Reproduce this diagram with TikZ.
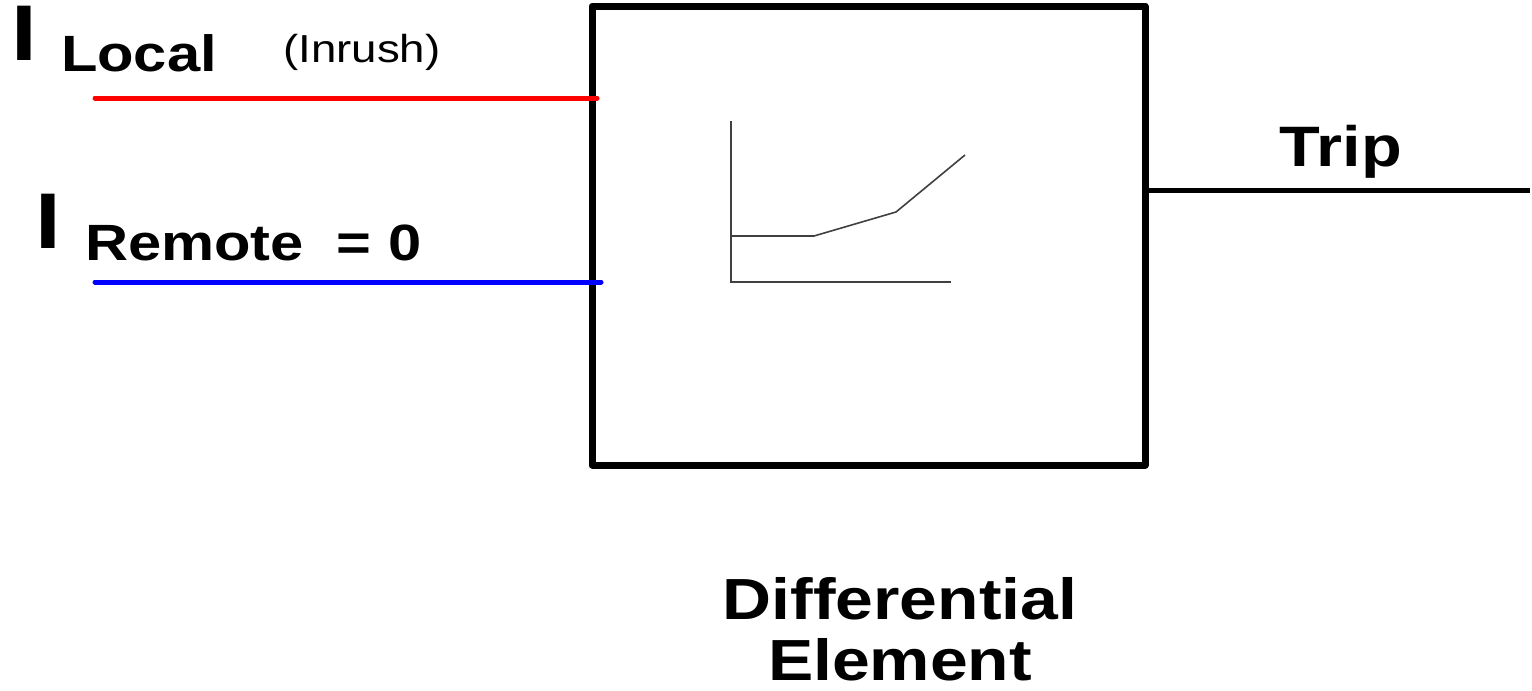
\documentclass[tikz,border=0pt]{standalone}
\usepackage{fontspec}
\setmainfont{Liberation Sans}[FakeStretch=1.17]
\begin{document}
\begin{tikzpicture}[x=1pt,y=-1pt,
  lbl/.style={inner sep=0pt,outer sep=0pt,anchor=base west,font=\bfseries\fontsize{51}{60}\selectfont},
  bigI/.style={inner sep=0pt,outer sep=0pt,anchor=base west,font=\bfseries\fontsize{79}{90}\selectfont},
  title/.style={inner sep=0pt,outer sep=0pt,anchor=base,font=\bfseries\fontsize{58}{70}\selectfont},
  wire/.style={line width=5pt,line cap=round},
  chart/.style={line width=1.6pt,black!75}]
\useasboundingbox (0,0) rectangle (1532,691);
% main box
\node[draw,line width=7pt,line join=round,minimum width=553pt,minimum height=459pt,inner sep=0pt,outer sep=0pt] (box) at (868.5,235.5) {};
% labels
\node[bigI] (i1) at (12,60) {I};
\node[lbl] (local) at (61,71) {Local};
\node[inner sep=0pt,anchor=base west,font=\fontsize{39}{46}\selectfont] (inrush) at (283,62) {(Inrush)};
\node[bigI] (i2) at (35,248) {I};
\node[lbl] (remote) at (85,260) {Remote \ = 0};
\node[title,font=\bfseries\fontsize{57}{68}\selectfont] (trip) at (1341,166) {Trip};
\node[title] (diff) at (900,619) {Differential};
\node[title] (elem) at (900,680) {Element};
% wires
\coordinate (lstart) at (95,98);
\coordinate (rstart) at (95,282);
\coordinate (tend) at (1530,190);
\draw[wire,red] (lstart) -- ([xshift=5pt]lstart -| box.west);
\draw[wire,blue] (rstart) -- ([xshift=9pt]rstart -| box.west);
\draw[line width=5pt] (box.east |- tend) -- (tend);
% characteristic
\draw[chart] (731,121) -- (731,282) -- (951,282);
\draw[chart] (731,236) -- (814,236) -- (896,212) -- (965,155);
\end{tikzpicture}
\end{document}
